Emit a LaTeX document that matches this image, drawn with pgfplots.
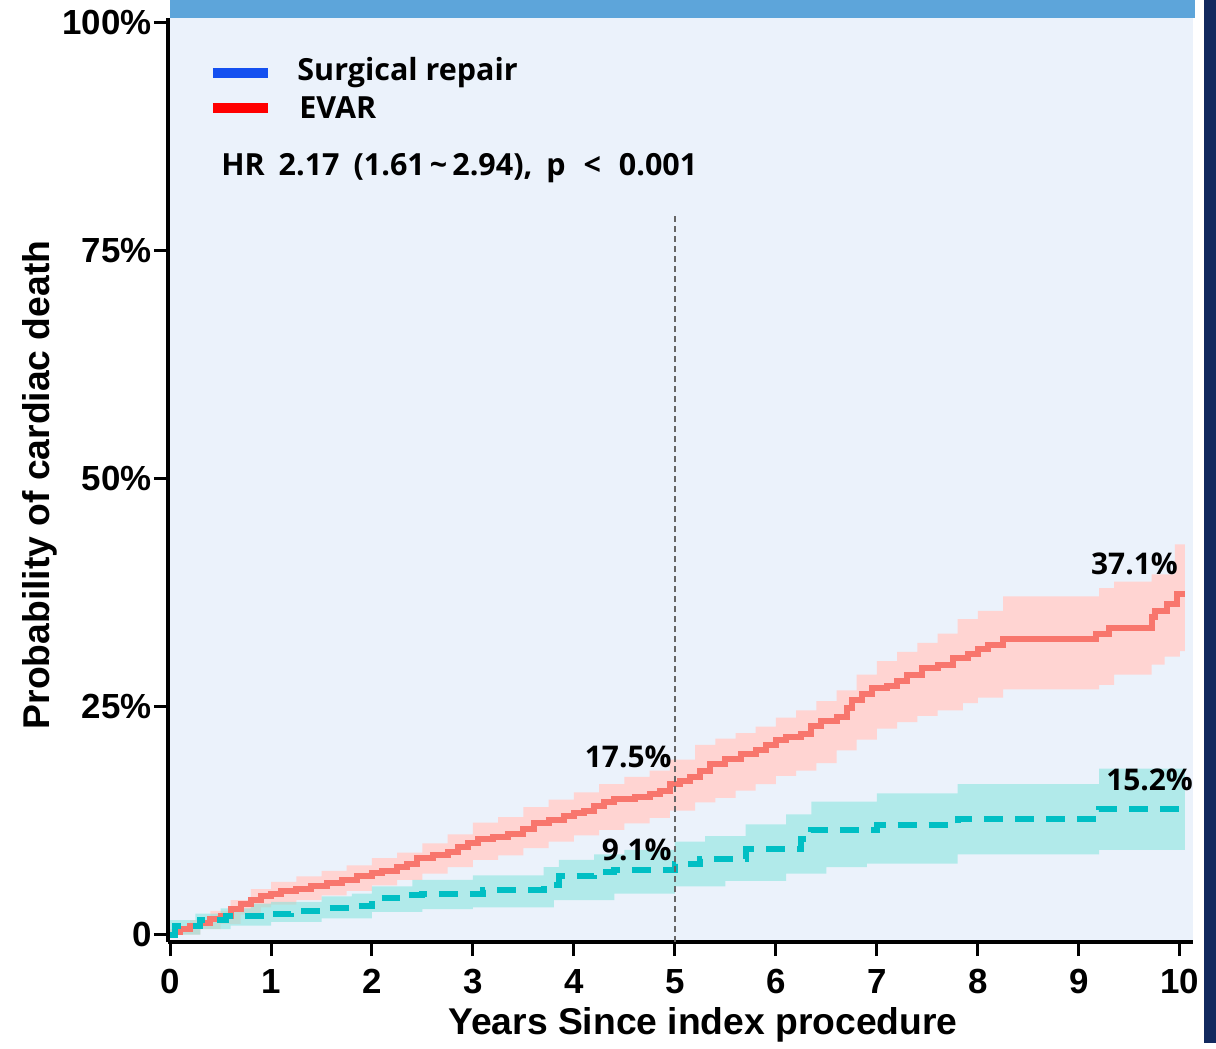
\documentclass[border=0pt]{standalone}
\usepackage{fontspec}
\setmainfont{Liberation Sans}
\newfontfamily\notofont{Open Sans}
\usepackage{pgfplots}
\pgfplotsset{compat=1.18}
\usepgfplotslibrary{fillbetween}

\definecolor{bgcol}{HTML}{EBF2FB}
\definecolor{topbar}{HTML}{5DA5DA}
\definecolor{navystrip}{HTML}{12295E}
\definecolor{redline}{HTML}{F8766D}
\definecolor{tealline}{HTML}{00BFC4}
\definecolor{redband}{HTML}{FFD4D2}
\definecolor{tealband}{HTML}{79E4DB}
\definecolor{legblue}{HTML}{1450F0}
\definecolor{legred}{HTML}{FF0000}

\begin{document}
\begin{tikzpicture}
\path (0,0) rectangle (608bp,-521.5bp);
\fill[navystrip] (602bp,0) rectangle (608bp,-521.5bp);
\fill[topbar] (85bp,0) rectangle (597.5bp,-9bp);
\begin{axis}[
  at={(84bp,-471bp)}, anchor=south west,
  scale only axis, width=512.5bp, height=462bp,
  xmin=-0.02, xmax=10.13, ymin=-0.8, ymax=100.5,
  axis background/.style={fill=bgcol},
  axis x line*=bottom, axis y line*=left,
  axis line style={line width=1.7bp, -},
  xtick={0,1,2,3,4,5,6,7,8,9,10},
  xticklabels={0,1,2,3,4,5,6,7,8,9,10},
  ytick={0,25,50,75,100},
  yticklabels={0\hspace{6bp},25\%,50\%,75\%,100\%},
  tick align=outside, major tick length=7bp,
  tick style={line width=1.5bp, black},
  ticklabel style={font=\fontsize{17.5}{20}\selectfont\bfseries},
  yticklabel style={inner xsep=1bp},
  xticklabel style={yshift=-3bp},
  clip=false,
]
% EVAR band
\addplot[name path=ru, draw=none, const plot] coordinates {
(0,0.6) (0.2,1.6) (0.4,2.6) (0.6,3.8) (0.8,5.0) (1.0,5.8) (1.25,6.4) (1.5,7.0) (1.75,7.6) (2.0,8.4) (2.25,9.0) (2.5,10.0) (2.75,11.0) (3.0,12.3) (3.25,12.9) (3.5,14.0) (3.75,14.8) (4.0,15.6) (4.25,16.5) (4.5,17.3) (4.75,18.0) (4.95,19.2) (5.2,20.8) (5.4,21.5) (5.6,22.1) (5.8,22.8) (6.0,23.8) (6.2,24.6) (6.4,25.6) (6.6,26.8) (6.8,28.5) (7.0,30.0) (7.2,31.0) (7.4,32.0) (7.6,33.0) (7.8,34.6) (8.0,35.5) (8.25,37.1) (9.2,38.0) (9.35,38.7) (9.72,39.5) (9.95,42.8) (10.05,42.8)};
\addplot[name path=rl, draw=none, const plot] coordinates {
(0,0) (0.3,0.6) (0.5,1.2) (0.7,2.2) (0.9,3.0) (1.0,3.3) (1.25,3.8) (1.5,4.3) (1.75,4.8) (2.0,5.4) (2.25,6.0) (2.5,6.7) (2.75,7.4) (3.0,8.2) (3.25,8.7) (3.5,9.5) (3.75,10.2) (4.0,10.9) (4.25,11.5) (4.5,12.2) (4.75,12.8) (4.95,13.6) (5.2,14.5) (5.4,15.0) (5.6,15.8) (5.8,16.5) (6.0,17.4) (6.2,18.0) (6.4,18.8) (6.6,20.2) (6.8,21.4) (7.0,22.6) (7.2,23.3) (7.4,24.0) (7.6,24.6) (7.85,25.4) (8.0,26.0) (8.25,26.9) (9.2,27.4) (9.35,28.5) (9.72,29.6) (9.85,30.5) (10.0,31.1) (10.05,31.1)};
\addplot[fill=redband, draw=none] fill between[of=ru and rl];
% Surgical band
\addplot[name path=tu, draw=none, const plot] coordinates {
(0,1.6) (0.25,2.3) (0.5,2.9) (0.8,3.4) (1.0,3.6) (1.5,4.2) (1.8,4.5) (2.0,5.3) (2.4,6.0) (3.0,6.5) (3.7,7.4) (3.85,8.2) (4.2,8.8) (4.5,9.3) (5.0,10.2) (5.3,10.8) (5.7,12.1) (6.1,13.2) (6.35,14.6) (7.0,15.5) (7.8,16.5) (9.2,18.2) (10.05,18.2)};
\addplot[name path=tl, draw=none, const plot] coordinates {
(0,0) (0.3,0.6) (0.6,1.0) (1.0,1.4) (1.5,1.8) (2.0,2.5) (2.5,2.8) (3.0,3.0) (3.8,3.8) (4.4,4.5) (5.0,5.3) (5.5,5.9) (6.1,6.7) (6.5,7.4) (6.9,7.8) (7.8,8.8) (9.2,9.3) (10.05,9.3)};
\addplot[fill=tealband, fill opacity=0.5, draw=none] fill between[of=tu and tl];
% EVAR estimate
\addplot[redline, line width=3bp, const plot] coordinates {
(0,0) (0.05,0.3) (0.1,0.6) (0.2,0.9) (0.3,1.3) (0.4,1.7) (0.5,2.1) (0.6,2.8) (0.7,3.4) (0.8,3.8) (0.9,4.2) (1.0,4.5) (1.1,4.8) (1.25,5.0) (1.4,5.3) (1.55,5.7) (1.7,6.0) (1.85,6.4) (2.0,6.8) (2.1,7.0) (2.25,7.4) (2.35,7.8) (2.45,8.4) (2.6,8.7) (2.75,9.1) (2.85,9.6) (2.95,10.1) (3.05,10.5) (3.2,10.7) (3.35,11.0) (3.5,11.6) (3.6,12.2) (3.75,12.6) (3.9,13.0) (4.0,13.3) (4.1,13.6) (4.2,14.1) (4.3,14.6) (4.4,14.9) (4.6,15.1) (4.75,15.4) (4.85,15.8) (4.95,16.5) (5.05,16.8) (5.15,17.3) (5.25,17.9) (5.35,18.7) (5.5,19.3) (5.65,19.8) (5.8,20.3) (5.9,20.8) (6.0,21.3) (6.1,21.7) (6.25,22.0) (6.35,22.9) (6.45,23.4) (6.6,23.9) (6.7,24.8) (6.75,25.7) (6.85,26.4) (6.95,27.0) (7.1,27.3) (7.2,27.8) (7.3,28.5) (7.45,29.2) (7.6,29.6) (7.75,30.3) (7.9,30.8) (8.0,31.3) (8.1,31.8) (8.25,32.4) (9.17,33.0) (9.3,33.6) (9.72,34.8) (9.75,35.5) (9.87,36.3) (9.97,37.3) (10.05,37.3)};
% Surgical estimate
\addplot[tealline, line width=3bp, const plot, dash pattern=on 9.5bp off 6bp] coordinates {
(0,0) (0.05,0.9) (0.3,1.6) (0.55,2.0) (0.95,2.3) (1.2,2.6) (1.5,2.9) (1.8,3.1) (2.0,4.0) (2.25,4.4) (2.5,4.5) (3.1,4.9) (3.7,5.5) (3.85,6.4) (4.2,6.9) (4.4,7.1) (5.0,7.8) (5.25,8.3) (5.7,9.4) (6.25,10.5) (6.35,11.5) (7.0,12.0) (7.8,12.7) (9.2,13.8) (10.05,13.8)};
% reference line at 5 years
\addplot[gray!80!black, line width=0.6bp, dash pattern=on 3bp off 2bp] coordinates {(5,-0.8) (5,78.8)};
% annotations
\node[anchor=east, font=\notofont\bfseries\fontsize{15}{18}\selectfont, inner sep=0pt] at (axis cs:4.97,19.5) {17.5\%};
\node[anchor=east, font=\notofont\bfseries\fontsize{15}{18}\selectfont, inner sep=0pt] at (axis cs:4.97,9.3) {9.1\%};
\node[font=\notofont\bfseries\fontsize{15}{18}\selectfont, inner sep=0pt] at (axis cs:9.55,40.7) {37.1\%};
\node[font=\notofont\bfseries\fontsize{15}{18}\selectfont, inner sep=0pt] at (axis cs:9.70,17.0) {15.2\%};
% legend
\draw[legblue, line width=5bp] (axis description cs:0.0439,0.9405) -- (axis description cs:0.0976,0.9405);
\draw[legred, line width=5bp] (axis description cs:0.0439,0.9026) -- (axis description cs:0.0976,0.9026);
\node[anchor=west, inner sep=0pt, font=\notofont\bfseries\fontsize{15.3}{18}\selectfont] at (axis description cs:0.1259,0.9405) {Surgical repair};
\node[anchor=west, inner sep=0pt, font=\notofont\bfseries\fontsize{15.3}{18}\selectfont] at (axis description cs:0.1278,0.9026) {EVAR};
\node[anchor=west, inner sep=0pt, font=\notofont\bfseries\fontsize{15.3}{18}\selectfont] at (axis description cs:0.0517,0.8377) {HR\hspace{3bp} 2.17\hspace{3bp} (1.61\,\textasciitilde\,2.94),\hspace{3bp} p\hspace{5bp} {<}\hspace{5bp} 0.001};
\end{axis}
\node[font=\fontsize{18.7}{22}\selectfont\bfseries] at (351.5bp,-512.5bp) {Years Since index procedure};
\node[rotate=90, font=\fontsize{18.7}{22}\selectfont\bfseries] at (20bp,-242.5bp) {Probability of cardiac death};
\end{tikzpicture}
\end{document}
